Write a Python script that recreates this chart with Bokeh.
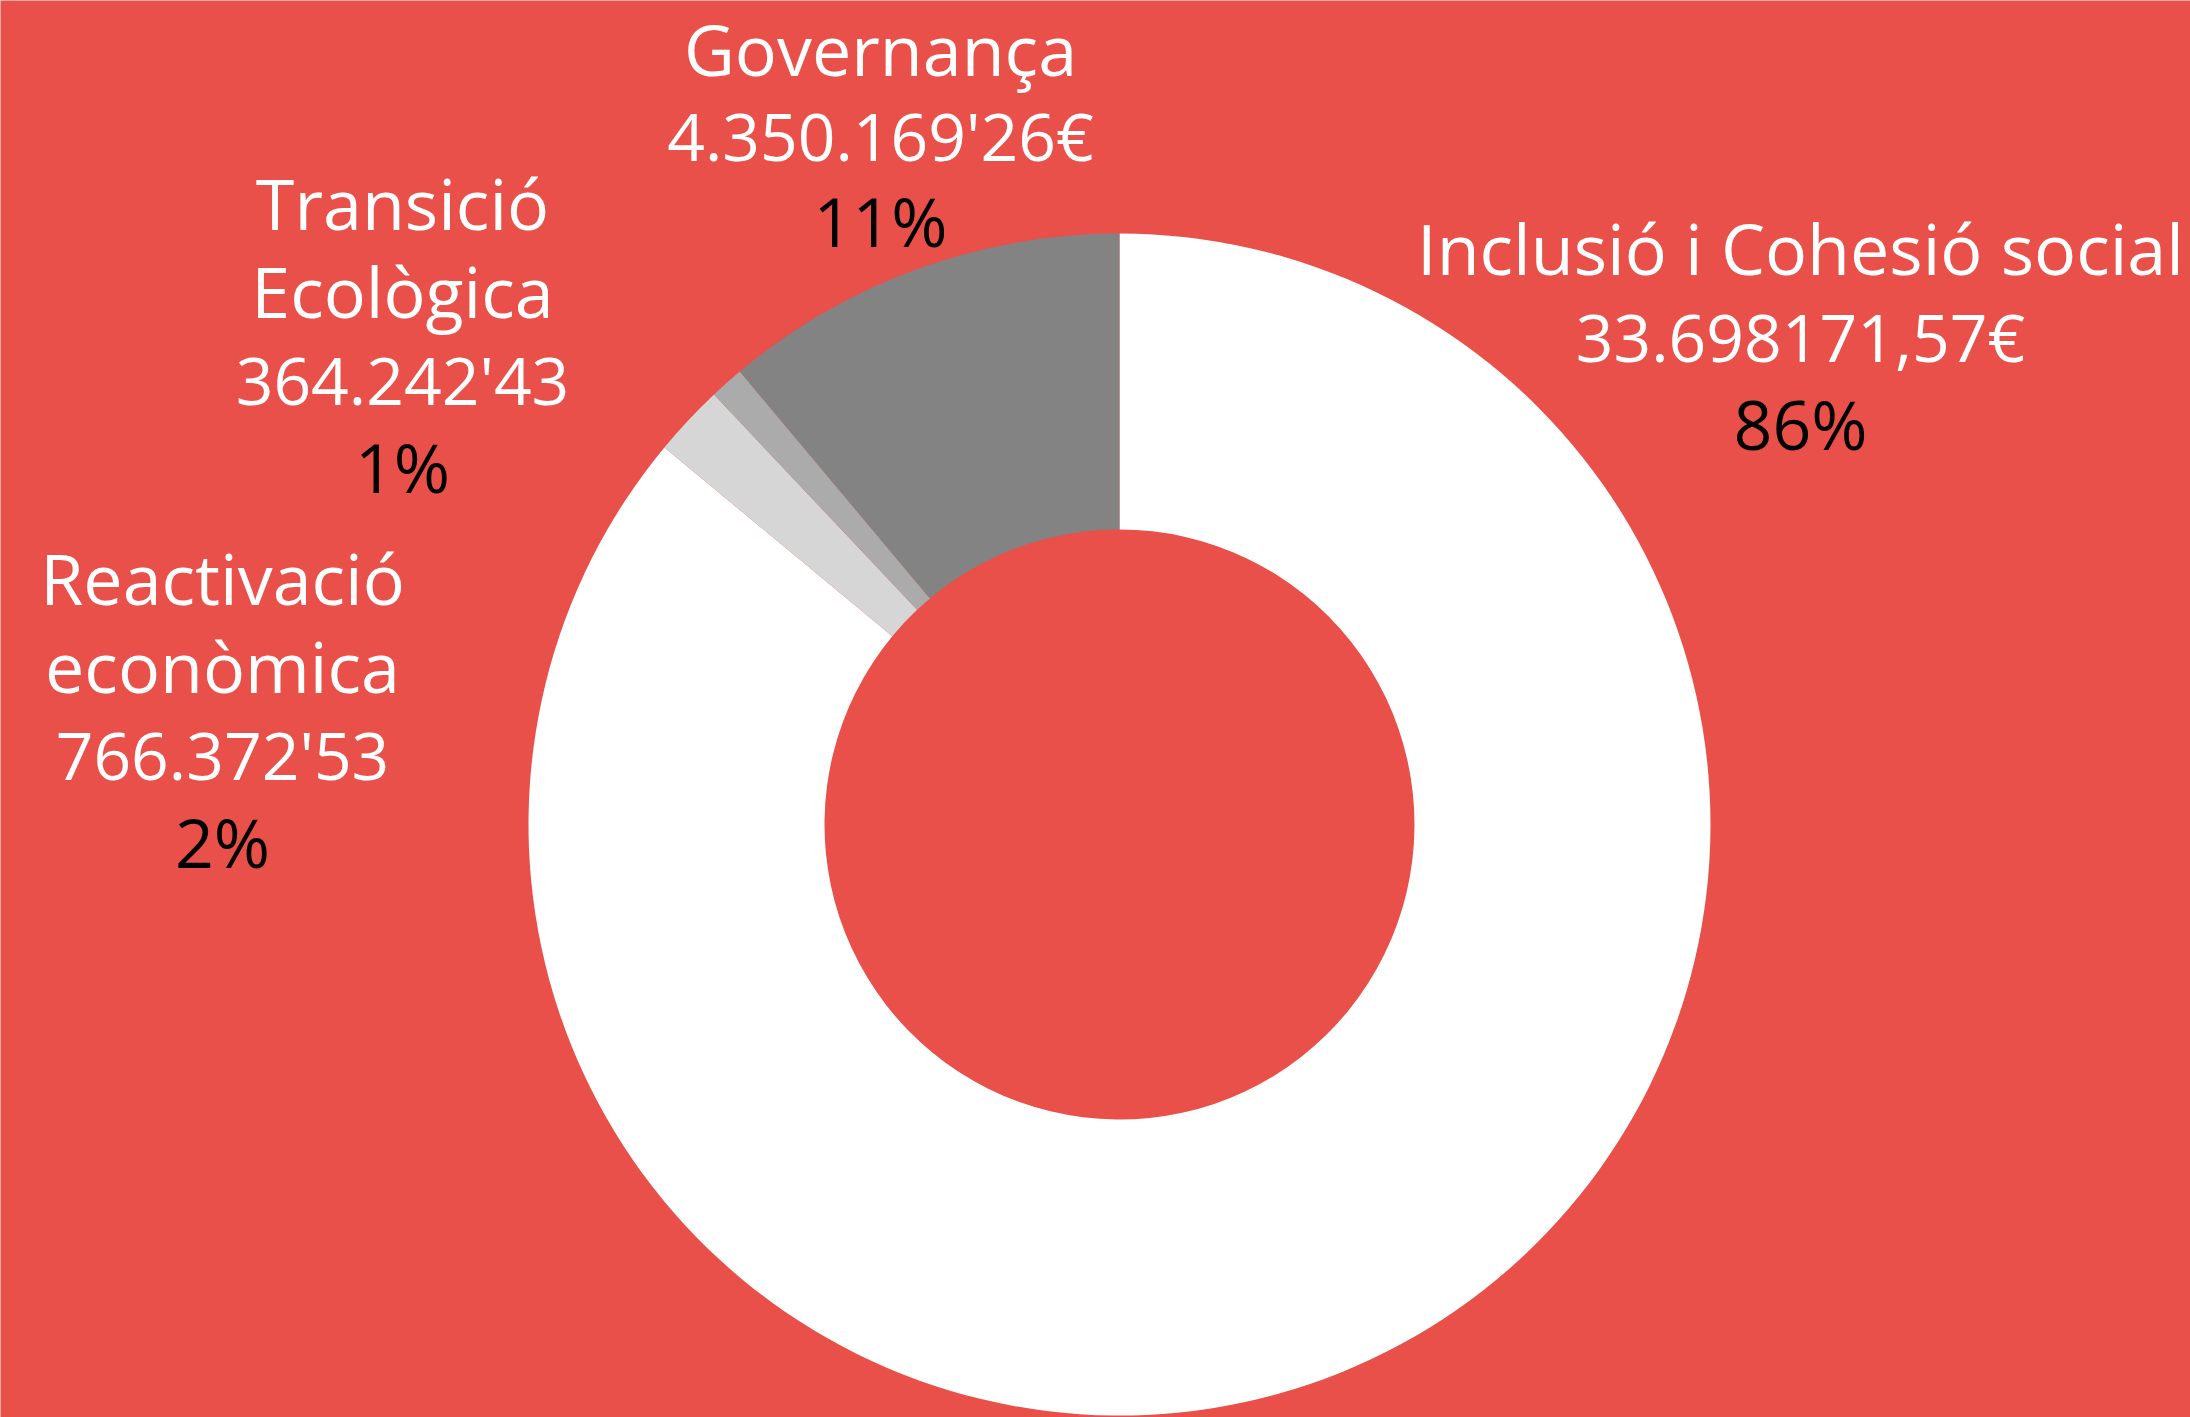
import math
from bokeh.plotting import figure
from bokeh.models import Range1d, ColumnDataSource
from bokeh.core.properties import value
from bokeh.embed import file_html
from bokeh.resources import INLINE

# ---- data ----
categories = ["Inclusió i Cohesió social", "Reactivació econòmica", "Transició Ecològica", "Governança"]
amounts = [33698171.57, 766372.53, 364242.43, 4350169.26]
amount_labels = ["33.698171,57€", "766.372'53", "364.242'43", "4.350.169'26€"]
name_lines = [["Inclusió i Cohesió social"], ["Reactivació", "econòmica"], ["Transició", "Ecològica"], ["Governança"]]

# ---- style / layout ----
BG = "#E9504A"
slice_colors = ["#FFFFFF", "#D6D6D6", "#ABABAB", "#838383"]
W, H = 2190, 1417
FONT = "Open Sans"
FS_NAME, FS_VALUE, FS_PCT = "70px", "66px", "68px"

# label anchor (page x of centre, page y of first baseline)
label_pos = [(1800, 247), (222, 577), (402, 202), (880, 48)]
LINES = [88, 88, 88, 86]

cx, cy = 1119, H - 824
r_out, r_in = 591, 295

p = figure(width=W, height=H, output_backend="svg", toolbar_location=None,
           x_range=Range1d(0, W), y_range=Range1d(0, H),
           min_border=0)
p.axis.visible = False
p.grid.visible = False
p.outline_line_color = None
p.background_fill_color = BG
p.border_fill_color = BG

total = sum(amounts)
starts, ends = [], []
cum = 0.0
for a in amounts:
    starts.append(math.pi / 2 - cum / total * 2 * math.pi)
    cum += a
    ends.append(math.pi / 2 - cum / total * 2 * math.pi)

src = ColumnDataSource(dict(x=[cx] * len(amounts), y=[cy] * len(amounts),
                            start=starts, end=ends, color=slice_colors))
p.annular_wedge(x="x", y="y", inner_radius=r_in, outer_radius=r_out,
                start_angle="start", end_angle="end", direction="clock",
                fill_color="color", line_color=None, source=src)

tx, ty, tt, tc, ts = [], [], [], [], []
for i, cat in enumerate(categories):
    x0, y0 = label_pos[i]
    names = name_lines[i]
    lines = names + [amount_labels[i], f"{round(amounts[i] / total * 100)}%"]
    cols = ["white"] * (len(lines) - 1) + ["black"]
    sizes = [FS_NAME] * len(names) + [FS_VALUE, FS_PCT]
    for j, (ln, col, sz) in enumerate(zip(lines, cols, sizes)):
        tx.append(x0)
        ty.append(H - (y0 + j * LINES[i]))
        tt.append(ln)
        tc.append(col)
        ts.append(sz)

tsrc = ColumnDataSource(dict(x=tx, y=ty, text=tt, color=tc, size=ts))
p.text(x="x", y="y", text="text", text_color="color", text_font_size="size",
       source=tsrc, text_align="center", text_baseline="alphabetic",
       text_font=value(FONT))

open("out.html", "w").write(file_html(p, INLINE))
